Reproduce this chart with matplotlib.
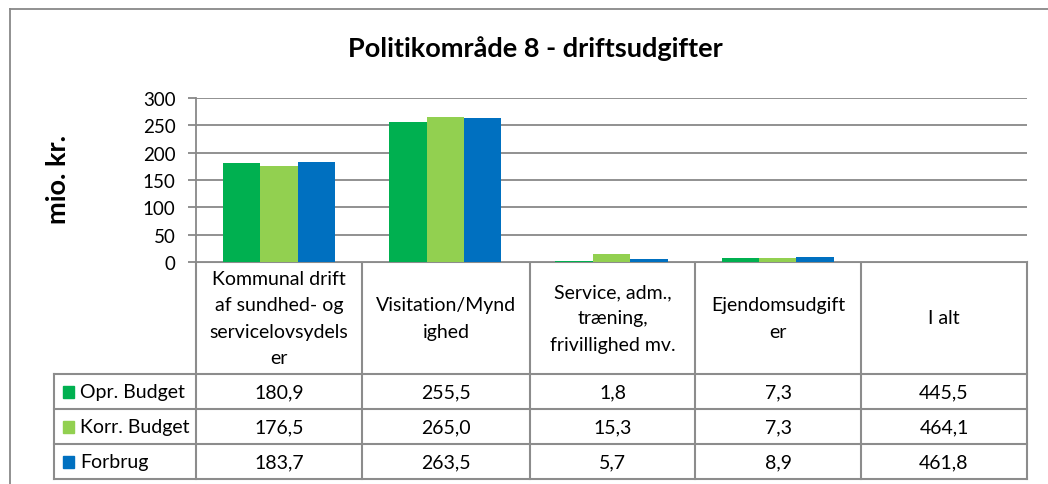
import numpy as np
import matplotlib.pyplot as plt

plt.rcParams['font.family'] = ['Lato', 'DejaVu Sans']

categories = ['Kommunal drift\naf sundhed- og\nservicelovsydels\ner',
              'Visitation/Mynd\nighed',
              'Service, adm.,\ntræning,\nfrivillighed mv.',
              'Ejendomsudgift\ner',
              'I alt']
series_names = ['Opr. Budget', 'Korr. Budget', 'Forbrug']
opr_budget = [180.9, 255.5, 1.8, 7.3, 445.5]
korr_budget = [176.5, 265.0, 15.3, 7.3, 464.1]
forbrug = [183.7, 263.5, 5.7, 8.9, 461.8]
colors = ['#00B050', '#92D050', '#0070C0']
yticks = [0, 50, 100, 150, 200, 250, 300]

W, H = 1048, 485
fig = plt.figure(figsize=(W / 100, H / 100), dpi=100)

# overlay axes in pixel coordinates for frame + table
bg = fig.add_axes([0, 0, 1, 1])
bg.set_xlim(0, W)
bg.set_ylim(H, 0)
bg.axis('off')

grey = '#888888'
bg.plot([10, 10], [10, H], color=grey, lw=1.3)
bg.plot([10, W], [10, 10], color=grey, lw=1.3)

# plot area
left, right, top, bottom = 196, 1027, 99, 263
ax = fig.add_axes([left / W, 1 - bottom / H, (right - left) / W, (bottom - top) / H])
ax.set_xlim(0, len(categories))
ax.set_ylim(0, 300)

series = [opr_budget, korr_budget, forbrug]
bw = 0.225
x = np.arange(len(categories)) + 0.5
for i, vals in enumerate(series):
    # the "I alt" column is only in the table, not as bars
    ax.bar(x[:4] + (i - 1) * bw, vals[:4], width=bw, color=colors[i], zorder=3)

ax.set_yticks(yticks)
ax.set_yticklabels([str(t) for t in yticks], fontsize=13.5)
ax.set_xticks([])
ax.yaxis.grid(True, color=grey, lw=1.3)
ax.tick_params(axis='y', length=5.8, color=grey, width=1.3, pad=9)
for s in ['top', 'right', 'bottom']:
    ax.spines[s].set_visible(False)
ax.spines['left'].set_color(grey)
ax.spines['left'].set_linewidth(1.3)

fig.text(535 / W, 1 - 49 / H, 'Politikområde 8 - driftsudgifter', ha='center', va='center',
         fontsize=19.5, fontweight='bold')
fig.text(58 / W, 1 - 180 / H, 'mio. kr.', ha='center', va='center', rotation=90,
         fontsize=19.5, fontweight='bold')

# data table
col_edges = [196, 362, 530, 695, 861, 1027]
row_edges = [375, 410, 445, 480]
tcol = '#8c8c8c'
for xe in col_edges:
    bg.plot([xe, xe], [263, 480], color=tcol, lw=1.5)
bg.plot([54, 54], [375, 480], color=tcol, lw=1.5)
bg.plot([196, 1027], [263, 263], color=tcol, lw=1.5)
for ye in row_edges:
    bg.plot([54, 1027], [ye, ye], color=tcol, lw=1.5)

for j, name in enumerate(categories):
    cx = (col_edges[j] + col_edges[j + 1]) / 2
    bg.text(cx, 319, name, ha='center', va='center', fontsize=14, linespacing=1.65)

for i, vals in enumerate(series):
    cy = (row_edges[i] + [410, 445, 480][i]) / 2
    bg.add_patch(plt.Rectangle((63, cy - 6), 11, 12, color=colors[i]))
    bg.text(80, cy, series_names[i], ha='left', va='center', fontsize=14)
    for j, v in enumerate(vals):
        cx = (col_edges[j] + col_edges[j + 1]) / 2
        bg.text(cx, cy, f'{v:.1f}'.replace('.', ','), ha='center', va='center', fontsize=14)

fig.savefig('out.png', dpi=100)
